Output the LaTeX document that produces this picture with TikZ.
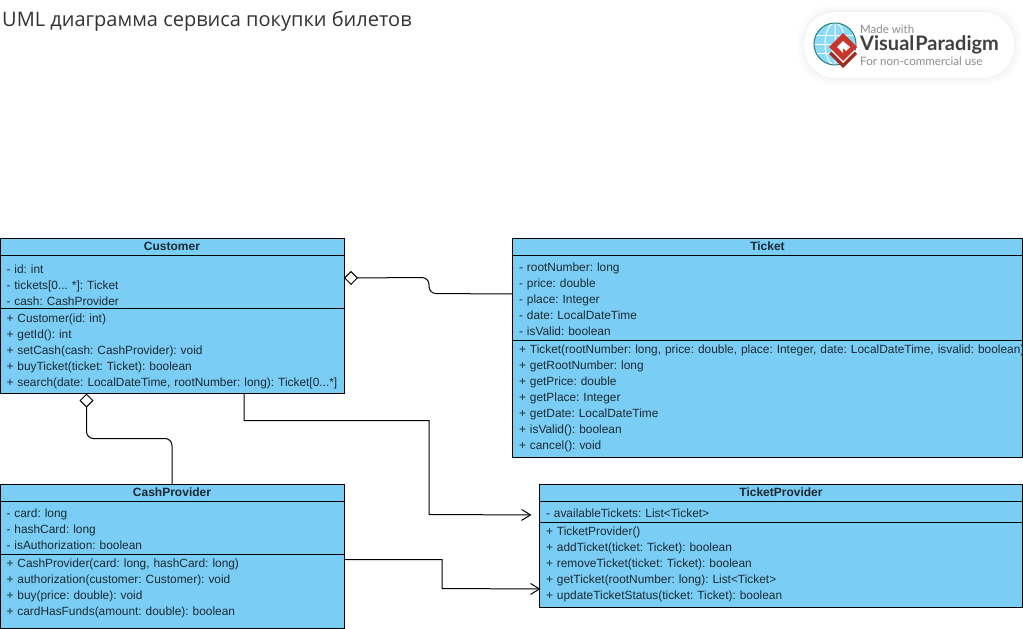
\documentclass[tikz,border=0pt]{standalone}
\usepackage{xcolor}
\usepackage{fontspec}
\setmainfont{Liberation Sans}
\newfontfamily\headfont{Open Sans}
\newfontfamily\logofont{Lato}
\usetikzlibrary{arrows.meta}

\definecolor{classblue}{HTML}{7ACDF4}
\definecolor{classtext}{HTML}{1C2A33}
\definecolor{logogray}{HTML}{8C8C8C}
\definecolor{logored}{HTML}{C9342B}

\tikzset{
  rows/.style 2 args = {text height = #1, text depth = #2 - #1},
  classbox/.style = {draw = black, fill = classblue, line width = 1pt, anchor = north west, outer sep = 0pt,
    inner xsep = 6.5pt, inner ysep = 0pt, text width = #1 - 13pt, align = left,
    text = classtext, font = \fontsize{11.9}{16}\selectfont\frenchspacing},
  classname/.style = {classbox = #1, rows = {11.5pt}{17pt}, align = center, font = \fontsize{12}{16}\selectfont\bfseries},
  link/.style = {draw = black, line width = 1pt},
  aggregation/.style = {link, rounded corners = 7pt, {Diamond[open, fill = white, length = 14pt, width = 14pt, line width = 1pt]}-},
  dependency/.style = {link, -{Straight Barb[length = 9pt, width = 11pt, line width = 1pt]}}
}

\begin{document}
\begin{tikzpicture}[x = 1pt, y = -1pt]
    \useasboundingbox (0, 0) rectangle (1023, 629);

    \node[anchor = base west, inner sep = 0pt, text = black!80, font = \headfont\fontsize{20}{24}\selectfont] (heading) at (2, 26) {UML диаграмма сервиса покупки билетов};

    % logo
    {
      \foreach \grow/\shade in {6/1, 4/2, 2/4} {
        \fill[black!\shade, rounded corners = 32pt] (804 - \grow, 12 - \grow) rectangle (1014 + \grow, 78 + \grow);
      }
      \fill[white, rounded corners = 32pt] (804, 12) rectangle (1014, 78);
      \fill[cyan!45!white] (835, 44) circle (21);
      \begin{scope}
        \clip (835, 44) circle (21);
        \draw[white, line width = 1pt] (814, 35) -- (856, 35) (814, 44) -- (856, 44) (814, 53) -- (856, 53);
        \draw[white, line width = 1pt] (835, 23) -- (835, 65) (835, 44) ellipse (10 and 21);
      \end{scope}
      \draw[teal!70!gray, line width = 1pt] (835, 44) circle (21);
      \fill[logored!80!black] (829, 54) -- (843, 40) -- (857, 54) -- (843, 68) -- cycle;
      \fill[white] (831, 51) -- (843, 39) -- (855, 51) -- (843, 63) -- cycle;
      \fill[logored] (829, 47) -- (843, 33) -- (857, 47) -- (843, 61) -- cycle;
      \fill[white] (837, 47) -- (843, 41) -- (850, 47) -- (846, 51) -- (843, 48) -- (843, 53) -- cycle;
      \node[anchor = base west, inner sep = 0pt, text = logogray, font = \logofont\fontsize{11.5}{14}\selectfont] (madeWith) at (860, 33) {Made with};
      \node[anchor = base west, inner sep = 0pt, text = black!75, font = \logofont\fontsize{20}{22}\selectfont\bfseries] (logoName) at (860, 50.5) {Visual\kern 1pt Paradigm};
      \node[anchor = base west, inner sep = 0pt, text = logogray, font = \logofont\fontsize{11.6}{14}\selectfont] (logoNote) at (860, 65) {For non-commercial use};
    }

    % Customer
    {
      \node[classname = 344pt] (customerName) at (0, 238.5) {Customer};
      \node[classbox = 344pt, rows = {17.5pt}{53pt}] (customerAttrs) at (0, 255.5) {- id: int\\- tickets[0... *]: Ticket\\- cash: CashProvider};
      \node[classbox = 344pt, rows = {14pt}{85pt}] (customerOps) at (0, 308.5) {+ Customer(id: int)\\+ getId(): int\\+ setCash(cash: CashProvider): void\\+ buyTicket(ticket: Ticket): boolean\\\mbox{+ search(date: LocalDateTime, rootNumber: long): Ticket[0...*]}};
    }
    % Ticket
    {
      \node[classname = 510pt] (ticketName) at (512.5, 238.5) {Ticket};
      \node[classbox = 510pt, rows = {15.5pt}{85pt}] (ticketAttrs) at (512.5, 255.5) {- rootNumber: long\\- price: double\\- place: Integer\\- date: LocalDateTime\\- isValid: boolean};
      \node[classbox = 510pt, rows = {12.5pt}{117pt}] (ticketOps) at (512.5, 340.5) {\mbox{+ Ticket(rootNumber: long, price: double, place: Integer, date: LocalDateTime, isvalid: boolean)}\\+ getRootNumber: long\\+ getPrice: double\\+ getPlace: Integer\\+ getDate: LocalDateTime\\+ isValid(): boolean\\+ cancel(): void};
    }
    % CashProvider
    {
      \node[classname = 344pt] (cashName) at (0, 484.5) {CashProvider};
      \node[classbox = 344pt, rows = {15.5pt}{53pt}] (cashAttrs) at (0, 501.5) {- card: long\\- hashCard: long\\- isAuthorization: boolean};
      \node[classbox = 344pt, rows = {12.5pt}{74pt}] (cashOps) at (0, 554.5) {+ CashProvider(card: long, hashCard: long)\\+ authorization(customer: Customer): void\\+ buy(price: double): void\\+ cardHasFunds(amount: double): boolean};
    }
    % TicketProvider
    {
      \node[classname = 483pt] (providerName) at (539.5, 484.5) {TicketProvider};
      \node[classbox = 483pt, rows = {15.5pt}{21pt}] (providerAttrs) at (539.5, 501.5) {- availableTickets: List<Ticket>};
      \node[classbox = 483pt, rows = {12.5pt}{85pt}] (providerOps) at (539.5, 522.5) {+ TicketProvider()\\+ addTicket(ticket: Ticket): boolean\\+ removeTicket(ticket: Ticket): boolean\\+ getTicket(rootNumber: long): List<Ticket>\\+ updateTicketStatus(ticket: Ticket): boolean};
    }

    \draw[aggregation] ([yshift = 4pt]customerAttrs.east) -- (429, 277.5) -- (429, 293.5) -- ([yshift = 4pt]ticketAttrs.west);
    \draw[aggregation] ([xshift = -85.5pt]customerOps.south) -- (86.5, 438.5) -- (172, 438.5) -- (cashName.north);
    \draw[dependency, shorten > = 8pt] ([xshift = 72pt]customerOps.south) -- (244, 420.5) -- (429, 420.5) -- (429, 514.5) -- ([yshift = -3pt]providerAttrs.west);
    \draw[dependency] ([yshift = 32pt]cashOps.east) -- (442, 559.5) -- (442, 588.5) -- ([yshift = -24pt, xshift = 1pt]providerOps.west);
\end{tikzpicture}
\end{document}
